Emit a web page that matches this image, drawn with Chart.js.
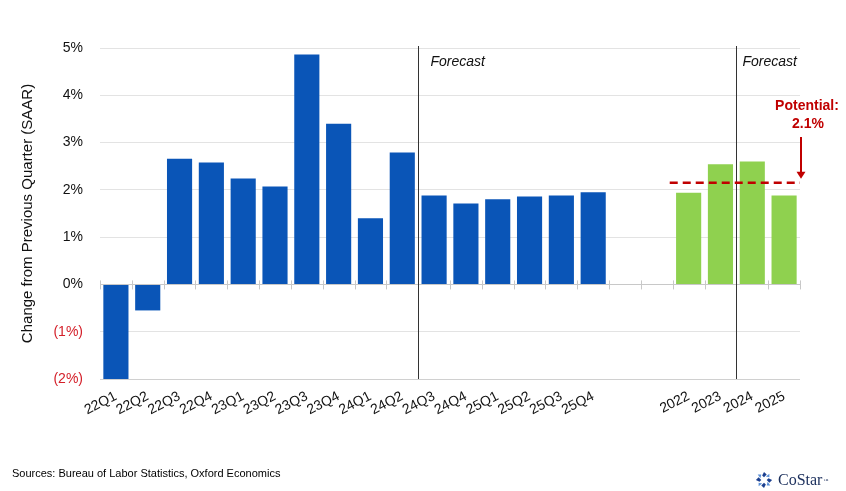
<!DOCTYPE html>
<html>
<head>
<meta charset="utf-8">
<script src="https://cdn.jsdelivr.net/npm/chart.js@4.4.1/dist/chart.umd.min.js"></script>
<style>
  html, body { margin: 0; padding: 0; background: #fff; }
  #wrap { position: relative; width: 846px; height: 491px; overflow: hidden; }
  #c { position: absolute; left: 0; top: 0; }
  #src { position: absolute; left: 12px; top: 467px; font: 11px "Liberation Sans", Arial, sans-serif; color: #000; }
  #logo { position: absolute; left: 755px; top: 471px; display: flex; align-items: center; font: 16px "Liberation Serif", serif; color: #1b2f5c; }
  #logo svg { margin-right: 5px; }
  #logo sup { font-size: 5px; vertical-align: top; margin-left: 1px; }
</style>
</head>
<body>
<div id="wrap">
  <canvas id="c" width="846" height="491"></canvas>
  <div id="src">Sources: Bureau of Labor Statistics, Oxford Economics</div>
  <div id="logo">
    <svg width="18" height="18" viewBox="0 0 20 20">
      <g fill="#1b3f8f">
        <path d="M10 1 L13 4 L10 7 L8 5 Z"/>
        <path d="M19 10 L16 13 L13 10 L15 8 Z"/>
        <path d="M10 19 L7 16 L10 13 L12 15 Z"/>
        <path d="M1 10 L4 7 L7 10 L5 12 Z"/>
      </g>
      <g fill="#5a8fd6">
        <path d="M16 3 L16 7 L12 6 Z"/>
        <path d="M17 16 L13 16 L14 12 Z"/>
        <path d="M4 17 L4 13 L8 14 Z"/>
        <path d="M3 4 L7 4 L6 8 Z"/>
      </g>
    </svg>
    <span>CoStar</span><sup>™</sup>
  </div>
</div>
<script>
// ---- data ----
const quarterLabels = ['22Q1','22Q2','22Q3','22Q4','23Q1','23Q2','23Q3','23Q4','24Q1','24Q2','24Q3','24Q4','25Q1','25Q2','25Q3','25Q4'];
const quarterValues = [-2.0, -0.55, 2.66, 2.58, 2.24, 2.07, 4.86, 3.40, 1.40, 2.79, 1.88, 1.71, 1.80, 1.86, 1.88, 1.95];
const gapLabels = ['', ''];
const annualLabels = ['2022','2023','2024','2025'];
const annualValues = [1.94, 2.54, 2.60, 1.88];
const potentialGrowth = 2.15;
const yTicks = [-2, -1, 0, 1, 2, 3, 4, 5];
const forecastAfter = ['24Q2', '2023'];
const forecastTextOffset = [12, 6];

const labels = quarterLabels.concat(gapLabels, annualLabels);
const values = quarterValues.concat(gapLabels.map(() => null), annualValues);
const BLUE = '#0a55b7', GREEN = '#8fd14f';
const colors = quarterValues.map(() => BLUE).concat(gapLabels.map(() => GREEN), annualValues.map(() => GREEN));

const FONT = '"Liberation Sans", Arial, sans-serif';

const overlay = {
  id: 'overlay',
  afterDatasetsDraw(chart) {
    const {ctx, chartArea, scales: {x, y}} = chart;
    const half = (x.getPixelForValue(1) - x.getPixelForValue(0)) / 2;
    const y0 = y.getPixelForValue(0);
    ctx.save();
    // zero axis line and ticks
    ctx.strokeStyle = '#c8c8c8';
    ctx.lineWidth = 1;
    ctx.beginPath();
    ctx.moveTo(chartArea.left, Math.round(y0) + 0.5);
    ctx.lineTo(chartArea.right, Math.round(y0) + 0.5);
    for (let i = 0; i <= labels.length; i++) {
      const px = Math.round(x.getPixelForValue(i) - half) + 0.5;
      ctx.moveTo(px, y0 - 4);
      ctx.lineTo(px, y0 + 5);
    }
    ctx.stroke();
    // forecast vertical lines
    ctx.strokeStyle = '#333';
    ctx.lineWidth = 1;
    ctx.font = 'italic 14px ' + FONT;
    ctx.fillStyle = '#111';
    ctx.textBaseline = 'middle';
    forecastAfter.forEach((lbl, k) => {
      const idx = labels.indexOf(lbl);
      const px = Math.round(x.getPixelForValue(idx) + half) + 0.5;
      ctx.beginPath();
      ctx.moveTo(px, chartArea.top - 2);
      ctx.lineTo(px, chartArea.bottom);
      ctx.stroke();
      ctx.fillText('Forecast', px + forecastTextOffset[k], 62);
    });
    // potential dashed line
    const yp = y.getPixelForValue(potentialGrowth);
    const firstAnnual = labels.indexOf(annualLabels[0]);
    const xs = x.getPixelForValue(firstAnnual) - half - 3;
    ctx.strokeStyle = '#c00000';
    ctx.lineWidth = 2.5;
    ctx.setLineDash([8, 5]);
    ctx.beginPath();
    ctx.moveTo(xs, yp);
    ctx.lineTo(chartArea.right, yp);
    ctx.stroke();
    ctx.setLineDash([]);
    // arrow
    const ax = chartArea.right + 1;
    ctx.lineWidth = 2;
    ctx.beginPath();
    ctx.moveTo(ax, 137);
    ctx.lineTo(ax, yp - 9);
    ctx.stroke();
    ctx.fillStyle = '#c00000';
    ctx.beginPath();
    ctx.moveTo(ax - 4.5, yp - 11);
    ctx.lineTo(ax + 4.5, yp - 11);
    ctx.lineTo(ax, yp - 4);
    ctx.closePath();
    ctx.fill();
    ctx.font = 'bold 14px ' + FONT;
    ctx.textAlign = 'center';
    ctx.fillText('Potential:', 807, 106);
    ctx.fillText(potentialGrowth.toFixed(1) + '%', 808, 124);
    ctx.restore();
  }
};

new Chart(document.getElementById('c'), {
  type: 'bar',
  data: {
    labels: labels,
    datasets: [{
      data: values,
      backgroundColor: colors,
      borderWidth: 0,
      barPercentage: 0.79,
      categoryPercentage: 1.0
    }]
  },
  options: {
    responsive: false,
    animation: false,
    devicePixelRatio: 1,
    layout: { padding: { left: 0, right: 46, top: 48, bottom: 0 } },
    plugins: { legend: { display: false }, tooltip: { enabled: false } },
    scales: {
      x: {
        grid: { display: false, drawTicks: false },
        border: { display: false },
        ticks: {
          autoSkip: false,
          minRotation: 27,
          maxRotation: 27,
          padding: 9,
          color: '#111',
          font: { family: FONT, size: 14 }
        },
        afterFit(scale) { scale.height = 112; }
      },
      y: {
        min: -2,
        max: 5,
        afterBuildTicks(scale) { scale.ticks = yTicks.map(v => ({ value: v })); },
        grid: {
          color: (c) => (c.tick && c.tick.value === -2) ? '#d0d0d0' : '#e3e3e3',
          drawTicks: false
        },
        border: { display: false },
        ticks: {
          padding: 17,
          font: { family: FONT, size: 14 },
          color: (c) => (c.tick && c.tick.value < 0) ? '#d4202a' : '#111',
          callback: (v) => v < 0 ? '(' + Math.abs(v) + '%)' : v + '%'
        },
        title: {
          display: true,
          text: 'Change from Previous Quarter (SAAR)',
          color: '#111',
          font: { family: FONT, size: 15 },
          padding: { top: 19, bottom: 0 }
        },
        afterFit(scale) { scale.width = 100; }
      }
    }
  },
  plugins: [overlay]
});
</script>
</body>
</html>
